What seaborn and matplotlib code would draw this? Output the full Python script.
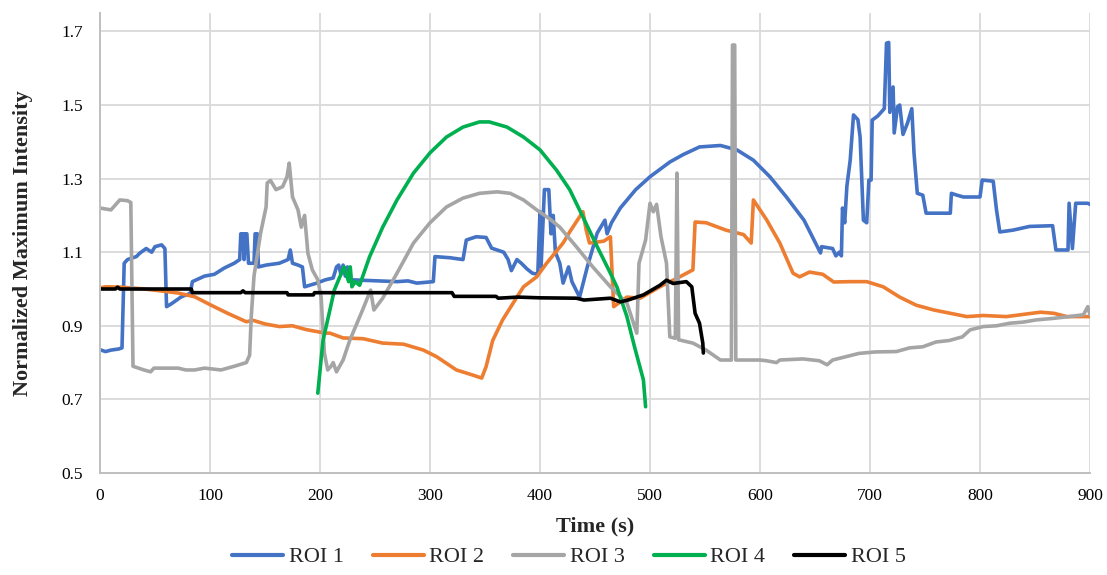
import matplotlib
matplotlib.use("Agg")
import matplotlib.pyplot as plt
import seaborn as sns
import pandas as pd

# ---------------- data (time s, normalized max intensity) ----------------
roi1 = [(0,0.835),(5,0.83),(10,0.834),(17,0.837),(20,0.84),(22,1.07),(25,1.08),(33,1.088),(36,1.097),
        (42,1.11),(47,1.10),(50,1.115),(56,1.12),(59,1.11),(60.5,0.952),(65,0.96),(74,0.979),(82,0.988),
        (84,1.02),(95,1.035),(104,1.04),(113,1.057),(122,1.07),(127,1.08),(128,1.15),(130,1.15),(131,1.08),
        (132,1.15),(133.5,1.15),(135,1.07),(140,1.07),(141,1.15),(143,1.15),(144,1.06),(151,1.065),
        (163,1.07),(171,1.08),(173,1.106),(175,1.07),(180,1.065),(184,1.06),(186,1.006),(196,1.015),
        (205,1.025),(212,1.03),(215,1.06),(217,1.065),(219,1.04),(221,1.065),(223,1.035),(225,1.06),
        (228,1.025),(236,1.024),(250,1.022),(270,1.02),(280,1.022),(288,1.016),(303,1.02),(304.5,1.088),
        (318,1.085),(330,1.08),(333,1.133),(342,1.142),(351,1.14),(356,1.111),(367,1.10),(371,1.08),
        (374,1.05),(379,1.08),(383,1.07),(388,1.055),(393,1.043),(398,1.04),(400,1.21),(401,1.06),
        (404,1.27),(408,1.27),(410,1.15),(412,1.2),(414,1.1),(418,1.07),(421,1.016),(426,1.06),(429,1.02),
        (436,0.978),(443,1.06),(452,1.152),(459,1.187),(461,1.15),(465,1.18),(473,1.22),(487,1.27),
        (500,1.305),(518,1.345),(530,1.365),(545,1.386),(564,1.39),(579,1.378),(594,1.35),(609,1.305),
        (624,1.25),(640,1.187),(655,1.098),(656,1.115),(666,1.11),(669,1.09),(672,1.10),(674,1.09),
        (675,1.22),(677,1.18),(679,1.28),(682,1.35),(685,1.473),(689,1.46),(691,1.413),(694,1.187),
        (697,1.18),(699,1.296),(701,1.296),(702,1.459),(707,1.47),(713,1.49),(715,1.668),(717,1.67),
        (718,1.48),(721,1.549),(722,1.424),(725,1.495),(727,1.50),(730,1.42),(734,1.45),(738,1.49),
        (740,1.37),(743,1.26),(748,1.255),(751,1.206),(773,1.206),(774,1.26),(779,1.255),(785,1.25),
        (800,1.25),(802,1.296),(812,1.293),(815,1.215),(818,1.155),(830,1.16),(845,1.17),(866,1.172),
        (869,1.106),(880,1.106),(881,1.233),(884,1.11),(887,1.233),(898,1.233),(900,1.23)]

roi2 = [(0,1.003),(5,1.006),(20,1.005),(40,1.0),(55,0.995),(71,0.989),(86,0.979),(101,0.956),(116,0.934),
        (133,0.911),(139,0.915),(150,0.905),(163,0.898),(175,0.90),(187,0.89),(205,0.88),(209,0.88),
        (221,0.867),(239,0.865),(257,0.853),(276,0.85),(294,0.834),(306,0.816),(324,0.78),(339,0.766),
        (347,0.758),(351,0.789),(357,0.86),(366,0.916),(379,0.978),(385,1.006),(397,1.033),(406,1.07),
        (421,1.125),(427,1.155),(439,1.21),(442,1.16),(445,1.125),(458,1.13),(464,1.142),(467,0.952),
        (479,0.978),(491,0.975),(509,1.006),(527,1.033),(539,1.052),(541,1.182),(551,1.18),(569,1.16),
        (585,1.148),(592,1.125),(594,1.242),(606,1.188),(618,1.125),(630,1.043),(636,1.033),(645,1.046),
        (657,1.04),(667,1.019),(682,1.02),(697,1.02),(712,1.006),(727,0.978),(742,0.956),(758,0.943),
        (773,0.934),(788,0.925),(803,0.928),(824,0.925),(842,0.932),(855,0.937),(867,0.934),(879,0.925),
        (900,0.925)]

roi3 = [(0,1.22),(10,1.215),(18,1.242),(25,1.24),(28,1.235),(30,0.79),(40,0.78),(46,0.775),(49,0.785),
        (60,0.785),(71,0.785),(78,0.78),(86,0.78),(95,0.785),(110,0.78),(122,0.79),(133,0.80),(136,0.82),
        (137.5,0.925),(140,1.035),(146,1.152),(151,1.223),(152,1.288),(155,1.295),(160,1.27),(166,1.278),
        (170,1.305),(172,1.342),(175,1.25),(180,1.215),(183,1.168),(186,1.20),(189,1.097),(193,1.052),
        (198,1.025),(201,0.978),(204,0.826),(207,0.78),(210,0.79),(212,0.80),(215,0.775),(221,0.807),
        (227,0.86),(239,0.945),(246,0.997),(249,0.943),(257,0.975),(270,1.043),(285,1.125),(300,1.18),
        (315,1.223),(330,1.247),(345,1.26),(361,1.264),(373,1.26),(385,1.242),(397,1.215),(409,1.19),
        (418,1.168),(433,1.115),(448,1.06),(464,1.006),(479,0.962),(488,0.88),(490,1.07),(496,1.133),
        (500,1.233),(503,1.21),(506,1.23),(510,1.142),(515,1.07),(518,0.87),(523,0.866),(524.5,1.315),
        (526,0.862),(539,0.853),(551,0.834),(564,0.807),(574,0.807),(575,1.663),(577,1.663),(578,0.807),
        (600,0.807),(606,0.805),(615,0.80),(618,0.807),(639,0.81),(654,0.805),(661,0.794),(666,0.807),
        (678,0.816),(690,0.825),(705,0.829),(724,0.83),(736,0.84),(748,0.843),(760,0.856),(772,0.86),
        (784,0.87),(791,0.889),(803,0.898),(815,0.90),(827,0.907),(839,0.91),(851,0.916),(866,0.92),
        (881,0.925),(894,0.93),(898,0.952),(900,0.93)]

roi4 = [(198,0.717),(202.7,0.86),(209,0.943),(213,0.997),(218,1.033),(222,1.06),(226,1.02),(227.5,1.06),
        (229,1.006),(232,1.02),(236,1.01),(245,1.087),(257,1.168),(270,1.242),(285,1.315),(300,1.37),
        (315,1.413),(330,1.44),(345,1.454),(354,1.454),(370,1.44),(385,1.413),(400,1.378),(415,1.323),
        (427,1.27),(439,1.196),(452,1.115),(464,1.043),(470,1.005),(473,0.978),(479,0.925),(486,0.842),
        (494,0.753),(496,0.68)]

roi5 = [(0,1.0),(14,1.0),(16,1.005),(18,1.0),(83,1.0),(84,0.99),(128,0.99),(130,0.995),(132,0.99),
        (170,0.99),(171,0.984),(194,0.984),(195,0.99),(320,0.99),(322,0.98),(360,0.98),(362,0.975),
        (380,0.978),(400,0.976),(433,0.975),(440,0.97),(464,0.975),(473,0.965),(480,0.97),(494,0.984),
        (509,1.01),(515,1.024),(521,1.015),(533,1.02),(538,1.006),(541,0.934),(545,0.907),(548,0.853),
        (548.5,0.826)]

series_names = ["ROI 1", "ROI 2", "ROI 3", "ROI 4", "ROI 5"]
series_data = [roi1, roi2, roi3, roi4, roi5]
colors = ["#4472C4", "#ED7D31", "#A5A5A5", "#00B050", "#000000"]
x_ticks = [0, 100, 200, 300, 400, 500, 600, 700, 800, 900]
y_ticks = [0.5, 0.7, 0.9, 1.1, 1.3, 1.5, 1.7]

rows = []
for name, pts in zip(series_names, series_data):
    for i, (t, v) in enumerate(pts):
        rows.append({"Time": t, "Value": v, "ROI": name, "order": i})
df = pd.DataFrame(rows)

# ---------------- style ----------------
sns.set_style("white")
plt.rcParams["font.family"] = ["Liberation Serif", "DejaVu Serif"]

fig = plt.figure(figsize=(11.07, 5.75), dpi=100)
ax = fig.add_axes([100/1107, 1 - 473/575, 990/1107, 460/575])

sns.lineplot(data=df, x="Time", y="Value", hue="ROI", hue_order=series_names,
             palette=dict(zip(series_names, colors)), sort=False, estimator=None,
             linewidth=2.6, ax=ax, legend=False)
for ln in ax.get_lines():
    ln.set_solid_joinstyle("round")
    ln.set_solid_capstyle("round")

ax.set_xlim(0, 900)
ax.set_ylim(0.5, 1.75)
ax.set_xticks(x_ticks)
ax.set_yticks(y_ticks)
ax.set_xticklabels([str(v) for v in x_ticks])
ax.set_yticklabels([f"{v:.1f}" for v in y_ticks])
ax.grid(True, color="#D9D9D9", linewidth=1.3)
ax.set_axisbelow(True)
for s in ["top", "right"]:
    ax.spines[s].set_visible(False)
for s in ["left", "bottom"]:
    ax.spines[s].set_color("#BFBFBF")
    ax.spines[s].set_linewidth(1.4)
ax.tick_params(axis="both", length=0, labelsize=12.5, colors="#000000")
ax.tick_params(axis="y", pad=12)
ax.tick_params(axis="x", pad=11)

ax.set_xlabel("Time (s)", fontsize=16, fontweight="bold")
ax.set_ylabel("Normalized Maximum Intensity", fontsize=16, fontweight="bold")
ax.xaxis.set_label_coords(0.5, -0.095)
ax.yaxis.set_label_coords(-0.068, 0.5)

handles = [plt.Line2D([0], [0], color=c, linewidth=3.0) for c in colors]
fig.legend(handles, series_names, loc="center", bbox_to_anchor=(0.514, 1 - 557/575),
           ncol=5, frameon=False, fontsize=16, handlelength=2.3, handletextpad=0.25,
           columnspacing=1.3)

fig.savefig("out.png", dpi=100)
